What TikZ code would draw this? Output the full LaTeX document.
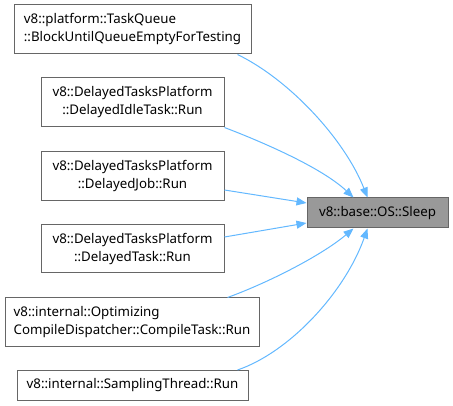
\documentclass[tikz,border=0pt]{standalone}
\usepackage{fontspec}
\setmainfont{Noto Sans}
\usetikzlibrary{arrows.meta,calc}
\definecolor{edgeblue}{HTML}{63B8FF}
\definecolor{boxborder}{HTML}{666666}
\definecolor{boxgrey}{HTML}{999999}
\tikzset{
  fnbox/.style={draw=boxborder, line width=1pt, fill=white, inner sep=0pt,
    font=\fontsize{13.3}{18}\selectfont, align=center},
  fnleft/.style={fnbox, align=left},
  focusbox/.style={fnbox, fill=boxgrey},
  edge/.style={draw=edgeblue, line width=1pt, -{Triangle[length=10pt,width=8pt]}}
}
\begin{document}
\begin{tikzpicture}[x=1pt,y=-1pt]
\useasboundingbox (0,0) rectangle (453,406);
\node[fnleft, minimum width=237pt, minimum height=49pt] (n1) at (132.5,29.5)
  {v8::platform::TaskQueue\\::BlockUntilQueueEmptyForTesting};
\node[fnbox, minimum width=183pt, minimum height=49pt] (n2) at (132.5,102.5)
  {v8::DelayedTasksPlatform\\::DelayedIdleTask::Run};
\node[fnbox, minimum width=183pt, minimum height=49pt] (n3) at (132.5,176.5)
  {v8::DelayedTasksPlatform\\::DelayedJob::Run};
\node[fnbox, minimum width=183pt, minimum height=48pt] (n4) at (132.5,249)
  {v8::DelayedTasksPlatform\\::DelayedTask::Run};
\node[fnleft, minimum width=254pt, minimum height=49pt] (n5) at (132,322.5)
  {v8::internal::Optimizing\\CompileDispatcher::CompileTask::Run};
\node[fnbox, minimum width=231pt, minimum height=30pt] (n6) at (132.5,385.5)
  {v8::internal::SamplingThread::Run};
\node[focusbox, minimum width=141pt, minimum height=30pt] (sleep) at (377.5,213)
  {v8::base::OS::Sleep};

\coordinate (s1) at ($(n1.south east)+(-14,0)$);
\coordinate (t1) at ($(sleep.north)+(-10,0)$);
\coordinate (s2) at (n2.south east);
\coordinate (t2) at ($(sleep.north)+(-24,0)$);
\coordinate (s3) at ($(n3.east)+(0,13.5)$);
\coordinate (t3) at ($(sleep.west)+(0,-10)$);
\coordinate (s4) at ($(n4.east)+(0,-12)$);
\coordinate (t4) at ($(sleep.west)+(0,10)$);
\coordinate (s5) at ($(n5.north east)+(-32,0)$);
\coordinate (t5) at ($(sleep.south)+(-24,0)$);
\coordinate (s6) at ($(n6.north east)+(-11,0)$);
\coordinate (t6) at ($(sleep.south)+(-10,0)$);

\draw[edge] (s1) .. controls (290,80) and (345,140) .. (t1);
\draw[edge] (s2) .. controls (265,143) and (322,168) .. (t2);
\draw[edge] (s3) -- (t3);
\draw[edge] (s4) -- (t4);
\draw[edge] (s5) .. controls (270,282) and (322,255) .. (t5);
\draw[edge] (s6) .. controls (290,352) and (345,292) .. (t6);
\end{tikzpicture}
\end{document}
